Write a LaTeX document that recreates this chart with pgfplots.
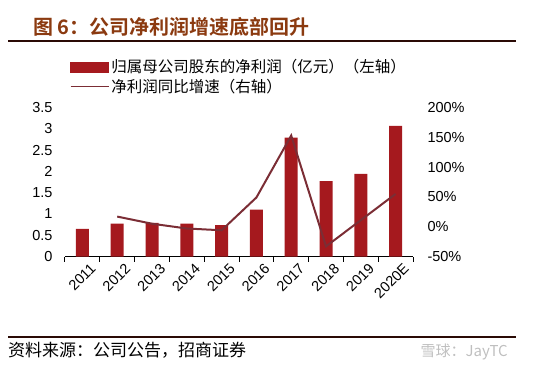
\documentclass[border=0pt]{standalone}
\usepackage{pgfplots}
\pgfplotsset{compat=1.18}
\usepackage{fontspec}
\setmainfont{Liberation Sans}
\newfontfamily\cjk{Noto Sans CJK SC}
\newfontfamily\cjkb{Noto Sans CJK SC Bold}
\definecolor{barred}{HTML}{A5191E}
\definecolor{linecol}{HTML}{7B2D35}
\definecolor{titlecol}{HTML}{8B3A10}
\definecolor{rulecol}{HTML}{2A0A05}
\begin{document}
\begin{tikzpicture}
\useasboundingbox (0pt,0pt) rectangle (541pt,368pt);
\draw[rulecol, line width=2pt] (8pt,327pt) -- (516pt,327pt);
\draw[rulecol, line width=2pt] (8pt,31.5pt) -- (516pt,31.5pt);
\node[anchor=west, inner sep=0, text=titlecol, font=\cjkb\fontsize{20}{24}\selectfont] at (33pt,341.5pt) {图 6：公司净利润增速底部回升};
\node[anchor=west, inner sep=0, font=\cjk\fontsize{17}{20}\selectfont] at (8pt,18pt) {资料来源：公司公告，招商证券};
\node[anchor=east, inner sep=0, text=black!25, font=\cjk\fontsize{15}{18}\selectfont] at (508pt,16pt) {雪球：JayTC};
\begin{axis}[at={(65pt,111.5pt)}, anchor=south west, scale only axis, width=348pt, height=149pt,
 xmin=-0.5, xmax=9.5, ymin=0, ymax=3.5,
 axis x line*=bottom, axis y line*=left,
 y axis line style={draw=none},
 x axis line style={black, line width=1pt, -},
 ytick={0,0.5,1,1.5,2,2.5,3,3.5}, ytick style={draw=none},
 xtick={0,1,2,3,4,5,6,7,8,9}, xticklabels={2011,2012,2013,2014,2015,2016,2017,2018,2019,2020E},
 major tick length=0pt,
 tick align=outside,
 extra x ticks={-0.5,0.5,1.5,2.5,3.5,4.5,5.5,6.5,7.5,8.5,9.5},
 extra x tick labels={},
 extra x tick style={major tick length=5pt, tick style={draw=black, line width=1pt}},
 ticklabel style={font=\fontsize{14.5}{16}\selectfont},
 yticklabel style={xshift=-9pt},
 xticklabel style={rotate=45, anchor=north east, inner sep=1pt, yshift=-8pt, xshift=2pt},
 /pgf/number format/assume math mode=true,
 clip=false,
]
\addplot[ybar, bar width=13pt, fill=barred, draw=none] coordinates {(0,0.65) (1,0.77) (2,0.79) (3,0.77) (4,0.74) (5,1.10) (6,2.79) (7,1.77) (8,1.94) (9,3.07)};
\end{axis}
\begin{axis}[at={(65pt,111.5pt)}, anchor=south west, scale only axis, width=348pt, height=149pt,
 xmin=-0.5, xmax=9.5, ymin=-50, ymax=200,
 axis x line=none, axis y line*=right,
 y axis line style={draw=none},
 ytick={-50,0,50,100,150,200}, ytick style={draw=none}, major tick length=0pt,
 yticklabel={\pgfmathprintnumber{\tick}\%},
 yticklabel style={font=\fontsize{14.5}{16}\selectfont, xshift=11pt},
 /pgf/number format/assume math mode=true,
 clip=false,
 legend style={at={(0.005,1.35)}, anchor=north west, draw=none, fill=none,
   font=\cjk\fontsize{15.5}{19}\selectfont, row sep=1pt},
 legend cell align=left,
]
\addlegendimage{legend image code/.code={\fill[barred] (0pt,-5pt) rectangle (38pt,5pt);}}
\addlegendentry{归属母公司股东的净利润（亿元）（左轴）}
\addplot[linecol, line width=2pt, mark=none, legend image code/.code={\draw[linecol,line width=1.5pt] (0pt,0pt) -- (38pt,0pt);}] coordinates {(1,17) (2,5) (3,-3) (4,-6) (5,49) (6,153) (7,-33) (8,11) (9,55)};
\addlegendentry{净利润同比增速（右轴）}
\end{axis}
\end{tikzpicture}
\end{document}
